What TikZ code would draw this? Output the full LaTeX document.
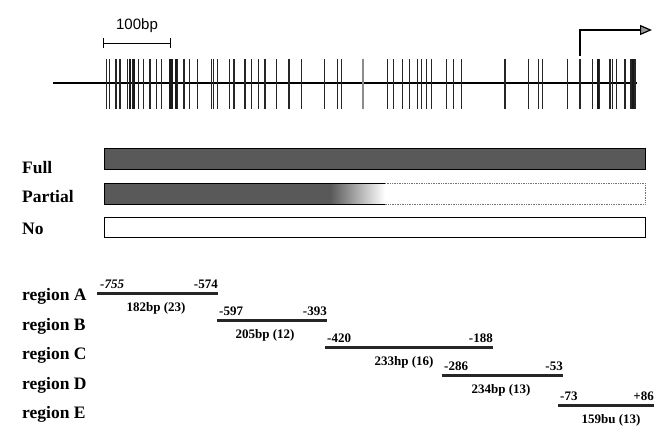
\documentclass[tikz,border=0pt]{standalone}
\usepackage{fontspec}
\setmainfont{Liberation Serif}
\newfontfamily\labsans{Liberation Sans}
\usetikzlibrary{arrows.meta}
\begin{document}
\begin{tikzpicture}[x=1pt,y=-1pt,
  bigl/.style={font=\fontsize{17.5}{20}\selectfont\bfseries, anchor=base west, inner sep=0pt},
  numl/.style={font=\fontsize{13}{15}\selectfont\bfseries, inner sep=0pt},
  regline/.style={line width=3pt, black!85},
  tickmark/.style={line width=1.2pt, black!85},
  thicktick/.style={line width=2pt, black!90},
  bar/.style={draw=black, line width=0.8pt},
  barfill/.style={fill=black!65}]
\useasboundingbox (0,0) rectangle (663,426);
% ---------- gene line with sites ----------
\coordinate (L0) at (53,83);
\coordinate (L1) at (637,83);
\draw[line width=1.1pt] (L0) -- (L1);
\foreach \x in {106.7,109.3,116,120,127.3,132.3,138.3,143.3,150,156.7,161.7,177.3,184,189.3,197.3,211.7,213.3,217.3,229.3,234,245,251.7,258.3,265,276.7,289,301.7,324.3,337.3,341.7,387.3,393.3,402.7,409.3,417.7,421.7,426.7,431.7,446.7,453.3,461.7,505,528.3,538.3,542.7,567.7,580,592.7,599.3,610,612.7,616.7,625,631,635}
  \draw[tickmark] (\x,59) -- (\x,109);
\foreach \x in {130,133.7,170,171.9,176,597.7,633.3}
  \draw[thicktick] (\x,59) -- (\x,109);
\draw[line width=2.2pt, black!45] (362.7,59) -- (362.7,109);
% ---------- transcription start arrow ----------
\coordinate (P0) at (580,56);
\coordinate (P1) at (580,30);
\coordinate (P2) at (652,30);
\draw[line width=1.2pt, -{Triangle[length=12pt,width=10pt,fill=black!40]}] (P0) -- (P1) -- (P2);
% ---------- scale bar ----------
\coordinate (S0) at (103,43);
\coordinate (S1) at (170,43);
\draw[line width=1pt] (S0) -- (S1);
\draw[line width=1pt] (103,38) -- (103,48) (170,38) -- (170,48);
\node[font=\labsans\fontsize{15}{17}\selectfont, inner sep=0pt] (scale) at (137,26) {100bp};
% ---------- bars ----------
\draw[bar, barfill] (104,148) rectangle (645,169);
\fill[black!65] (104,183) rectangle (330,204);
\shade[left color=black!65, right color=white] (330,183) rectangle (385,204);
\draw[line width=0.8pt] (385,183) -- (104,183) -- (104,204) -- (385,204);
\draw[black!55, densely dotted, line width=0.7pt] (385,183) -- (645,183) -- (645,204) -- (385,204);
\draw[bar, fill=white] (104,217) rectangle (645,237);
\node[bigl] (full) at (22,173) {Full};
\node[bigl] (partial) at (22,202) {Partial};
\node[bigl] (no) at (22,234) {No};
% ---------- regions ----------
\node[bigl] (rA) at (22,300) {region A};
\node[bigl] (rB) at (22,330) {region B};
\node[bigl] (rC) at (22,359) {region C};
\node[bigl] (rD) at (22,389) {region D};
\node[bigl] (rE) at (22,418) {region E};
% A
\coordinate (A0) at (97,293); \coordinate (A1) at (218,293);
\draw[regline] (A0) -- (A1);
\node[numl, anchor=base west, font=\fontsize{13}{15}\selectfont\bfseries\itshape] (a0) at (100,288) {-755};
\node[numl, anchor=base east] (a1) at (218,288) {-574};
\node[numl, anchor=base] (al) at (156,311.5) {182bp (23)};
% B
\coordinate (B0) at (217,320); \coordinate (B1) at (327,320);
\draw[regline] (B0) -- (B1);
\node[numl, anchor=base west] (b0) at (219,315) {-597};
\node[numl, anchor=base east] (b1) at (327,315) {-393};
\node[numl, anchor=base] (bl) at (265,338.5) {205bp (12)};
% C
\coordinate (C0) at (325,347); \coordinate (C1) at (493,347);
\draw[regline] (C0) -- (C1);
\node[numl, anchor=base west] (c0) at (327,342) {-420};
\node[numl, anchor=base east] (c1) at (493,342) {-188};
\node[numl, anchor=base] (cl) at (404,365.5) {233hp (16)};
% D
\coordinate (D0) at (442,375); \coordinate (D1) at (563,375);
\draw[regline] (D0) -- (D1);
\node[numl, anchor=base west] (d0) at (444,370) {-286};
\node[numl, anchor=base east] (d1) at (563,370) {-53};
\node[numl, anchor=base] (dl) at (501,393.5) {234bp (13)};
% E
\coordinate (E0) at (558,405); \coordinate (E1) at (654,405);
\draw[regline] (E0) -- (E1);
\node[numl, anchor=base west] (e0) at (560,400) {-73};
\node[numl, anchor=base east] (e1) at (654,400) {+86};
\node[numl, anchor=base] (el) at (611,423.5) {159bu (13)};
\end{tikzpicture}
\end{document}
